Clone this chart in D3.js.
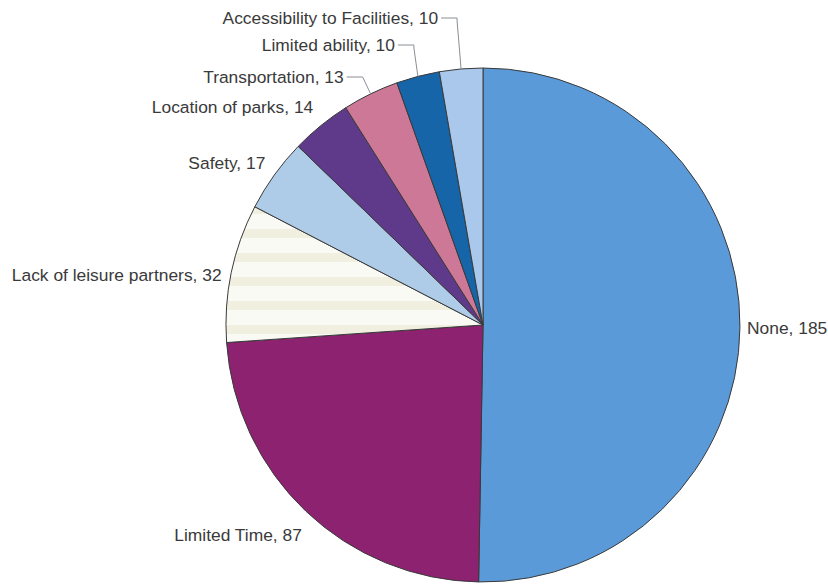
<!DOCTYPE html>
<meta charset="utf-8">
<style>
body { margin: 0; background: #fff; }
.labels text { font-family: "Liberation Sans", Arial, sans-serif; font-size: 17.4px; fill: #3a3a3a; }
.leaders path { fill: none; stroke: #8a8f96; stroke-width: 1px; }
</style>
<svg width="828" height="585"></svg>
<script src="https://d3js.org/d3.v7.min.js"></script>
<script>

var categories = ["None", "Limited Time", "Lack of leisure partners", "Safety",
                  "Location of parks", "Transportation", "Limited ability", "Accessibility to Facilities"];
var counts = [185, 87, 32, 17, 14, 13, 10, 10];
var colors = ["#5b9ad8", "#8c2270", "url(#cream)", "#aecbe8",
              "#5f3a8b", "#cd7897", "#1565a8", "#a9c8ec"];

var svg = d3.select("svg"),
    cx = 483, cy = 325, r = 257;

// faint striped texture for the cream slice
var defs = svg.append("defs");
var pat = defs.append("pattern")
    .attr("id", "cream")
    .attr("patternUnits", "userSpaceOnUse")
    .attr("width", 40).attr("height", 24);
pat.append("rect").attr("width", 40).attr("height", 24).attr("fill", "#fafaf4");
pat.append("rect").attr("y", 0).attr("width", 40).attr("height", 9).attr("fill", "#efeedb").attr("opacity", 0.8);

var data = categories.map(function(c, i) { return {name: c, value: counts[i], color: colors[i]}; });

var pie = d3.pie().sort(null).value(function(d) { return d.value; });
var arcs = pie(data);
var arc = d3.arc().innerRadius(0).outerRadius(r);

var g = svg.append("g").attr("transform", "translate(" + cx + "," + cy + ")");

g.selectAll("path.slice")
    .data(arcs)
  .enter().append("path")
    .attr("class", "slice")
    .attr("d", arc)
    .attr("fill", function(d) { return d.data.color; })
    .attr("stroke", "#3a3a3a")
    .attr("stroke-width", 1);

function pointAt(a, rad) {
  return [Math.sin(a) * rad, -Math.cos(a) * rad];
}

// label layout: plain labels sit just outside the arc, the three thin ones at the top get leader lines
var labelRadius = [264, 263, 267, 268, 269, 0, 0, 0];
var labelShift = [1, 19, 4, -6, -9, 0, 0, 0];
var leaderY = [null, null, null, null, null, -248, -280, -307];

var labels = g.append("g").attr("class", "labels");
var leaders = g.append("g").attr("class", "leaders");

arcs.forEach(function(d, i) {
  var mid = (d.startAngle + d.endAngle) / 2;
  var txt = d.data.name + ", " + d.data.value;
  if (leaderY[i] === null) {
    var p = pointAt(mid, labelRadius[i]);
    var right = Math.sin(mid) > 0;
    labels.append("text")
      .attr("x", p[0])
      .attr("y", p[1] + labelShift[i])
      .attr("dy", "0.35em")
      .attr("text-anchor", right ? "start" : "end")
      .text(txt);
  } else {
    var p0 = pointAt(mid, r);
    var ex = p0[0] - (i === 5 ? 8 : 4), ey = leaderY[i];
    var tx = ex - 16;
    leaders.append("path")
      .attr("d", "M" + p0[0] + "," + p0[1] + "L" + ex + "," + (i === 5 ? ey : ey + 3) + "L" + ex + "," + ey + "L" + tx + "," + ey);
    labels.append("text")
      .attr("x", tx - 3)
      .attr("y", ey)
      .attr("dy", "0.35em")
      .attr("text-anchor", "end")
      .text(txt);
  }
});

</script>
